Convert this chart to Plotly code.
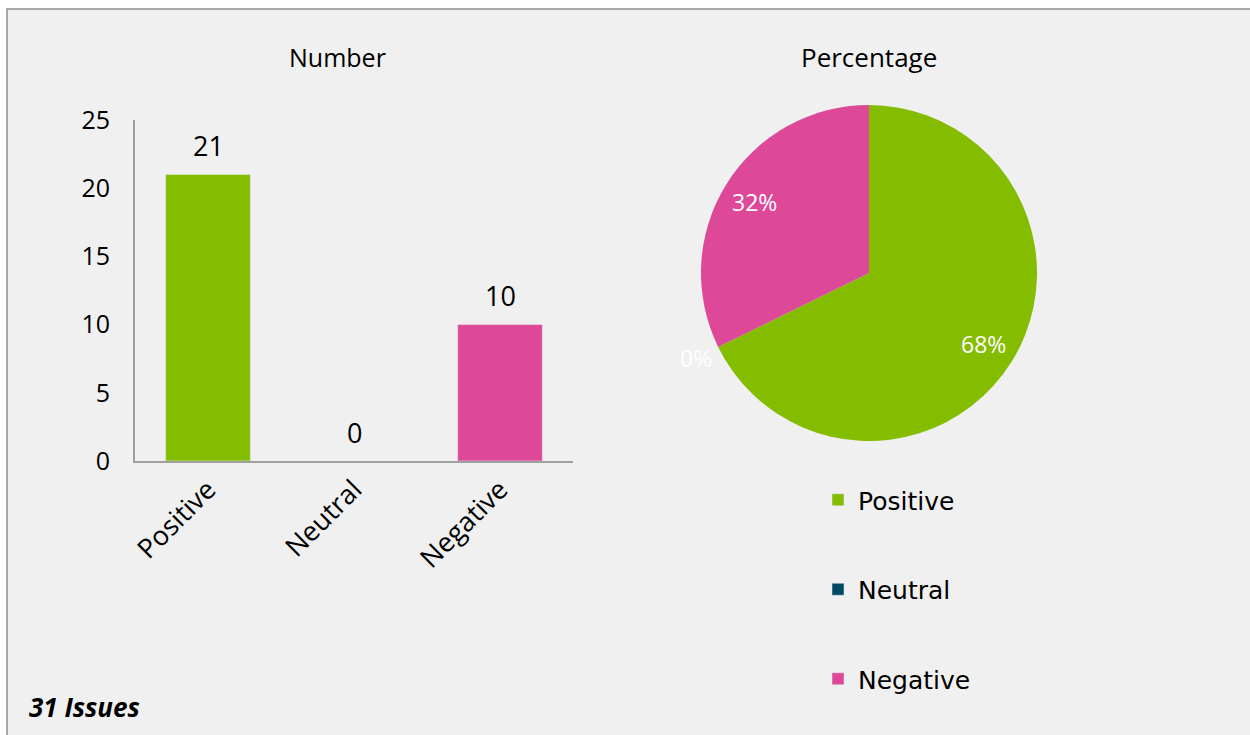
import math
import plotly.graph_objects as go

categories = ["Positive", "Neutral", "Negative"]
counts = [21, 0, 10]
colors = ["#84BD00", "#004B63", "#DD4899"]
y_ticks = [0, 5, 10, 15, 20, 25]
total_label = "31 Issues"

W, H = 1250, 735
FONT = "Open Sans"

fig = go.Figure()

annotations = []
for c, v, col in zip(categories, counts, colors):
    fig.add_trace(go.Bar(
        x=[c], y=[v], name=c, marker_color=col, width=0.58,
        legendgroup=c, showlegend=True, xaxis="x", yaxis="y",
    ))
    # value label above each bar
    annotations.append(dict(x=c, y=v, xref="x", yref="y", text=str(v), showarrow=False,
                            xanchor="center", yanchor="middle", yshift=29,
                            font=dict(size=27, color="black", family=FONT)))

total = sum(counts)
fig.add_trace(go.Pie(
    labels=categories, values=counts, sort=False, direction="clockwise",
    rotation=0, marker=dict(colors=colors, line=dict(width=0)),
    textinfo="none", showlegend=False, hoverinfo="label+value+percent",
    domain=dict(x=[701 / W, 1037 / W], y=[(H - 441) / H, (H - 105) / H]),
))

# percentage labels placed along each slice's data angle
cx, cy, r = (701 + 1037) / 2, (105 + 441) / 2, 168
cum = 0
for c, v in zip(categories, counts):
    if v == 0:
        theta = 2 * math.pi * cum / total
        k = 1.15
    else:
        theta = 2 * math.pi * (cum + v / 2) / total
        k = 0.8
    px = cx + k * r * math.sin(theta)
    py = cy - k * r * math.cos(theta)
    annotations.append(dict(x=px / W, y=1 - py / H, xref="paper", yref="paper",
                            xanchor="center", yanchor="middle",
                            text=f"{round(100 * v / total)}%", showarrow=False,
                            font=dict(size=23, color="white", family=FONT)))
    cum += v

annotations += [
    dict(x=337 / W, y=1 - 57 / H, xref="paper", yref="paper", text="Number",
         xanchor="center", yanchor="middle",
         showarrow=False, font=dict(size=25, color="black", family=FONT)),
    dict(x=869 / W, y=1 - 57 / H, xref="paper", yref="paper", text="Percentage",
         xanchor="center", yanchor="middle",
         showarrow=False, font=dict(size=26, color="black", family=FONT)),
    dict(x=27 / W, y=1 - 707 / H, xref="paper", yref="paper", text=f"<b><i>{total_label}</i></b>",
         showarrow=False, xanchor="left", yanchor="middle",
         font=dict(size=26, color="black", family=FONT)),
]

fig.update_layout(
    width=W, height=H, margin=dict(l=0, r=0, t=0, b=0, autoexpand=False),
    paper_bgcolor="white", plot_bgcolor="rgba(0,0,0,0)",
    barmode="relative",
    font=dict(family=FONT, color="black"),
    xaxis=dict(domain=[135 / W, 573 / W], showline=True, linecolor="#A0A0A0", linewidth=2,
               tickangle=-45, tickfont=dict(size=27, family=FONT), ticks="", showgrid=False,
               automargin=False, fixedrange=True),
    yaxis=dict(domain=[(H - 461) / H, (H - 120) / H], range=[0, 25], tickvals=y_ticks,
               showline=True, linecolor="#A0A0A0", linewidth=2, showgrid=False, zeroline=False,
               tickfont=dict(size=25, family=FONT), ticks="", ticklabelstandoff=18,
               automargin=False),
    legend=dict(x=818 / W, y=1 - 477 / H, xanchor="left", yanchor="top",
                font=dict(size=25, family="DejaVu Sans"), tracegroupgap=54,
                bgcolor="rgba(0,0,0,0)", itemwidth=30),
    annotations=annotations,
    shapes=[dict(type="rect", xref="paper", yref="paper", x0=7 / W, x1=1.02,
                 y0=-0.02, y1=1 - 9 / H, fillcolor="#F0F0F0",
                 line=dict(color="#A9A9A9", width=2), layer="below")],
)

fig.write_html("out.html")
